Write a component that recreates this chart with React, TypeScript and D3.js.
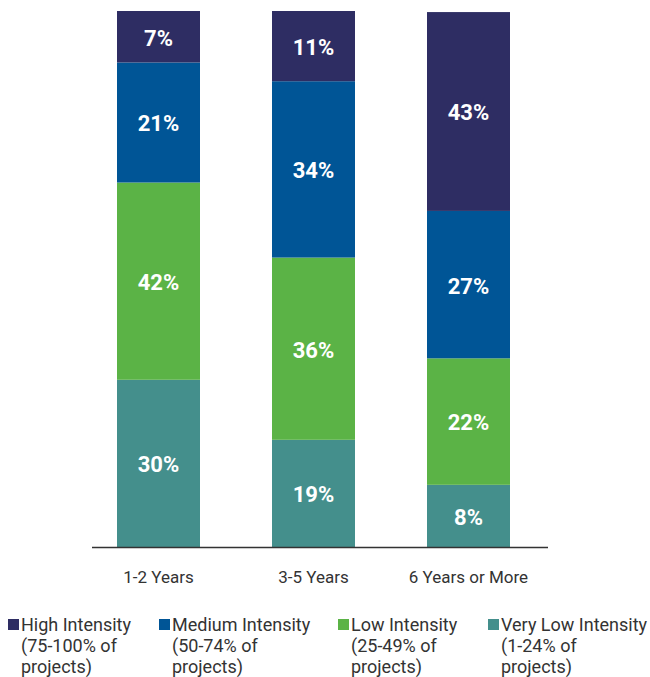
import React from 'react';
import * as d3 from 'd3';

// categories
const periods = ['1-2 Years', '3-5 Years', '6 Years or More'];
const seriesNames = ['Very Low Intensity', 'Low Intensity', 'Medium Intensity', 'High Intensity'];
const legendNames = ['High Intensity', 'Medium Intensity', 'Low Intensity', 'Very Low Intensity'];
const legendRanges = ['(75-100% of', '(50-74% of', '(25-49% of', '(1-24% of'];

// segment heights as drawn (share of bar), bottom to top
const veryLow = [31.2, 20.0, 11.6];
const low = [36.8, 34.0, 23.6];
const medium = [22.4, 32.9, 27.5];
const high = [9.6, 13.1, 37.1];

// labels printed on the segments
const veryLowLabel = ['30%', '19%', '8%'];
const lowLabel = ['42%', '36%', '22%'];
const mediumLabel = ['21%', '34%', '27%'];
const highLabel = ['7%', '11%', '43%'];

const colors = ['#448f8c', '#5bb346', '#005596', '#2e2d63'];

const W = 650;
const H = 677;
const font = 'Roboto, "Open Sans", sans-serif';

export default function App() {
  const values = [veryLow, low, medium, high];
  const labels = [veryLowLabel, lowLabel, mediumLabel, highLabel];

  const table = periods.map((p, i) => {
    const row: any = { period: p };
    seriesNames.forEach((s, j) => (row[s] = values[j][i]));
    return row;
  });
  const stacked = d3.stack<any>().keys(seriesNames)(table);

  const x = d3.scaleBand().domain(periods).range([39.5, 587.5]).paddingInner(0.4645).paddingOuter(0.5);
  const y = d3.scaleLinear().domain([0, 100]).range([547, 11]);

  const legendX = [8, 159, 338, 488];

  return (
    <svg width={W} height={H} style={{ position: 'absolute', left: 0, top: 0 }} fontFamily={font}>
      {stacked.map((layer, j) => (
        <g key={layer.key} fill={colors[j]}>
          {layer.map((d, i) => (
            <rect
              key={i}
              x={x(periods[i])!}
              y={y(d[1])}
              width={x.bandwidth()}
              height={y(d[0]) - y(d[1])}
            />
          ))}
        </g>
      ))}
      {stacked.map((layer, j) => (
        <g key={'l' + layer.key}>
          {layer.map((d, i) => (
            <text
              key={i}
              x={x(periods[i])! + x.bandwidth() / 2}
              y={(y(d[0]) + y(d[1])) / 2 + 1}
              dy="0.36em"
              textAnchor="middle"
              fill="#fff"
              fontWeight={700}
              fontSize={22}
            >
              {labels[j][i]}
            </text>
          ))}
        </g>
      ))}
      <line x1={92} x2={548} y1={547.5} y2={547.5} stroke="#333" strokeWidth={1.6} />
      {periods.map((p) => (
        <text key={p} x={x(p)! + x.bandwidth() / 2} y={583} textAnchor="middle" fontSize={17} fill="#333">
          {p}
        </text>
      ))}
      {legendNames.map((n, k) => (
        <g key={n} transform={`translate(${legendX[k]},0)`}>
          <rect x={0} y={619} width={11} height={11} fill={colors[3 - k]} />
          <text x={13} y={631} fontSize={18} fill="#333">{n}</text>
          <text x={13} y={652} fontSize={18} fill="#333">{legendRanges[k]}</text>
          <text x={13} y={673} fontSize={18} fill="#333">projects)</text>
        </g>
      ))}
    </svg>
  );
}
